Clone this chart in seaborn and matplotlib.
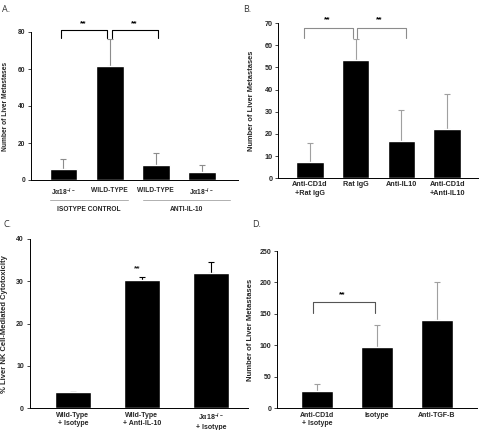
import matplotlib
matplotlib.use("Agg")
import matplotlib.pyplot as plt
import matplotlib.transforms as mtransforms
import numpy as np
import pandas as pd
import seaborn as sns

# panel A
a_labels = ["Jα18$^{-/-}$", "WILD-TYPE", "WILD-TYPE ", "Jα18$^{-/-}$ "]
a_means = [5.8, 61.8, 8.0, 4.2]
a_err = [5.4, 14.5, 6.6, 3.8]
a_groups = ["ISOTYPE CONTROL", "ANTI-IL-10"]

# panel B
b_labels = ["Anti-CD1d\n+Rat IgG", "Rat IgG", "Anti-IL10", "Anti-CD1d\n+Anti-IL10"]
b_means = [7.5, 53.3, 16.6, 22.0]
b_err = [8.3, 9.6, 14.1, 15.9]

# panel C
c_labels = ["Wild-Type\n+ Isotype", "Wild-Type\n+ Anti-IL-10", "Jα18$^{-/-}$\n+ Isotype"]
c_means = [3.8, 30.4, 32.0]
c_err = [0.0, 0.6, 2.6]

# panel D
d_labels = ["Anti-CD1d\n+ Isotype", "Isotype", "Anti-TGF-B"]
d_means = [27, 98, 140]
d_err = [11, 35, 61]

sns.set_theme(style="ticks")
plt.rcParams["font.family"] = ["Liberation Sans", "DejaVu Sans"]
plt.rcParams["font.weight"] = "bold"
plt.rcParams["mathtext.fontset"] = "custom"
plt.rcParams["mathtext.rm"] = "Liberation Sans:bold"
plt.rcParams["mathtext.it"] = "Liberation Sans:bold"
plt.rcParams["mathtext.bf"] = "Liberation Sans:bold"

TICK_FS = 4.8


def bar_panel(ax, labels, means, err, width, err_color, ylabel, ylabel_fs, ylabel_x):
    df = pd.DataFrame({"label": labels, "value": means})
    sns.barplot(data=df, x="label", y="value", color="black", width=width,
                saturation=1, ax=ax, errorbar=None)
    pos = np.arange(len(labels))
    ax.errorbar(pos, means, yerr=[np.zeros(len(err)), err], fmt="none",
                ecolor=err_color, elinewidth=0.8, capsize=2.5, capthick=0.8, zorder=1)
    for p in ax.patches:
        p.set_zorder(2)
    sns.despine(ax=ax)
    for s in ["left", "bottom"]:
        ax.spines[s].set_linewidth(0.7)
        ax.spines[s].set_color("black")
    ax.set_xlabel("")
    ax.set_ylabel(ylabel, fontsize=ylabel_fs, fontweight="bold")
    ax.yaxis.set_label_coords(ylabel_x, 0.5)
    ax.tick_params(axis="y", length=2, width=0.6, labelsize=TICK_FS, pad=2)
    ax.tick_params(axis="x", length=0, labelsize=TICK_FS)


def bracket(ax, x0, x1, y, drop, color, star_y, fs=6):
    ax.plot([x0, x0, x1, x1], [y - drop, y, y, y - drop], color=color,
            lw=0.8, clip_on=False)
    ax.text((x0 + x1) / 2 - 0.03, star_y, "**", ha="center", va="center",
            fontsize=fs, color="black", clip_on=False)


fig = plt.figure(figsize=(4.8, 4.3), dpi=100)

# ---- A
axA = fig.add_axes([31 / 480, 250 / 430, 207 / 480, 148 / 430])
bar_panel(axA, a_labels, a_means, a_err, 0.6, "#8c8c8c",
          "Number of Liver Metastases", 4.8, -0.105)
axA.set_xlim(-0.7, 3.77)
axA.set_ylim(0, 80)
axA.set_yticks([0, 20, 40, 60, 80])
axA.tick_params(axis="x", pad=5)
bracket(axA, -0.05, 0.95, 81, 4, "black", 84.5)
bracket(axA, 1.05, 2.05, 81, 4, "black", 84.5)
trA = mtransforms.blended_transform_factory(axA.transData, axA.transAxes)
for (x0, x1), name in zip([(-0.3, 1.39), (1.72, 3.59)], a_groups):
    axA.plot([x0, x1], [-0.136, -0.136], color="#b0b0b0", lw=0.7,
             transform=trA, clip_on=False)
    axA.text((x0 + x1) / 2, -0.2, name, transform=trA, ha="center",
             va="center", fontsize=TICK_FS)

# ---- B
axB = fig.add_axes([278.3 / 480, 251.7 / 430, 200 / 480, 155.3 / 430])
bar_panel(axB, b_labels, b_means, b_err, 0.6, "#a0a0a0",
          "Number of Liver Metastases", 5.4, -0.117)
axB.set_xlim(-0.69, 3.68)
axB.set_ylim(0, 70)
axB.set_yticks(range(0, 71, 10))
axB.tick_params(axis="x", pad=2, labelsize=5.2)
axB.tick_params(axis="y", labelsize=5.2)
for t in axB.get_xticklabels():
    t.set_linespacing(1.35)
bracket(axB, -0.12, 0.95, 67.8, 4.5, "#8c8c8c", 71.5)
bracket(axB, 1.02, 2.09, 67.8, 4.5, "#8c8c8c", 71.5)

# ---- C
axC = fig.add_axes([29.5 / 480, 21.7 / 430, 218.5 / 480, 169.3 / 430])
bar_panel(axC, c_labels, c_means, c_err, 0.52, "black",
          "% Liver NK Cell-Mediated Cytotoxicity", 5.5, -0.098)
axC.set_xlim(-0.63, 2.54)
axC.set_ylim(0, 40)
axC.set_yticks(range(0, 41, 10))
axC.tick_params(axis="x", pad=2.5, labelsize=5)
axC.tick_params(axis="y", labelsize=5)
for t in axC.get_xticklabels():
    t.set_linespacing(1.2)
axC.text(0.93, 33.0, "**", ha="center", va="center", fontsize=6)

# ---- D
axD = fig.add_axes([277 / 480, 21.7 / 430, 200 / 480, 157.3 / 430])
bar_panel(axD, d_labels, d_means, d_err, 0.52, "#a0a0a0",
          "Number of Liver Metastases", 5.5, -0.115)
axD.set_xlim(-0.667, 2.667)
axD.set_ylim(0, 250)
axD.set_yticks(range(0, 251, 50))
axD.tick_params(axis="x", pad=2.5, labelsize=5)
axD.tick_params(axis="y", labelsize=5)
for t in axD.get_xticklabels():
    t.set_linespacing(1.2)
bracket(axD, -0.07, 0.97, 168.5, 17.5, "#555555", 180)

for x, y, s in [(2, 425, "A."), (243, 425, "B."), (3, 210, "C."), (252, 210, "D.")]:
    fig.text(x / 480, y / 430, s, fontsize=6.5, fontweight="normal",
             color="#333333", va="top", family=["Open Sans", "DejaVu Sans"])

fig.savefig("out.png", dpi=100)
